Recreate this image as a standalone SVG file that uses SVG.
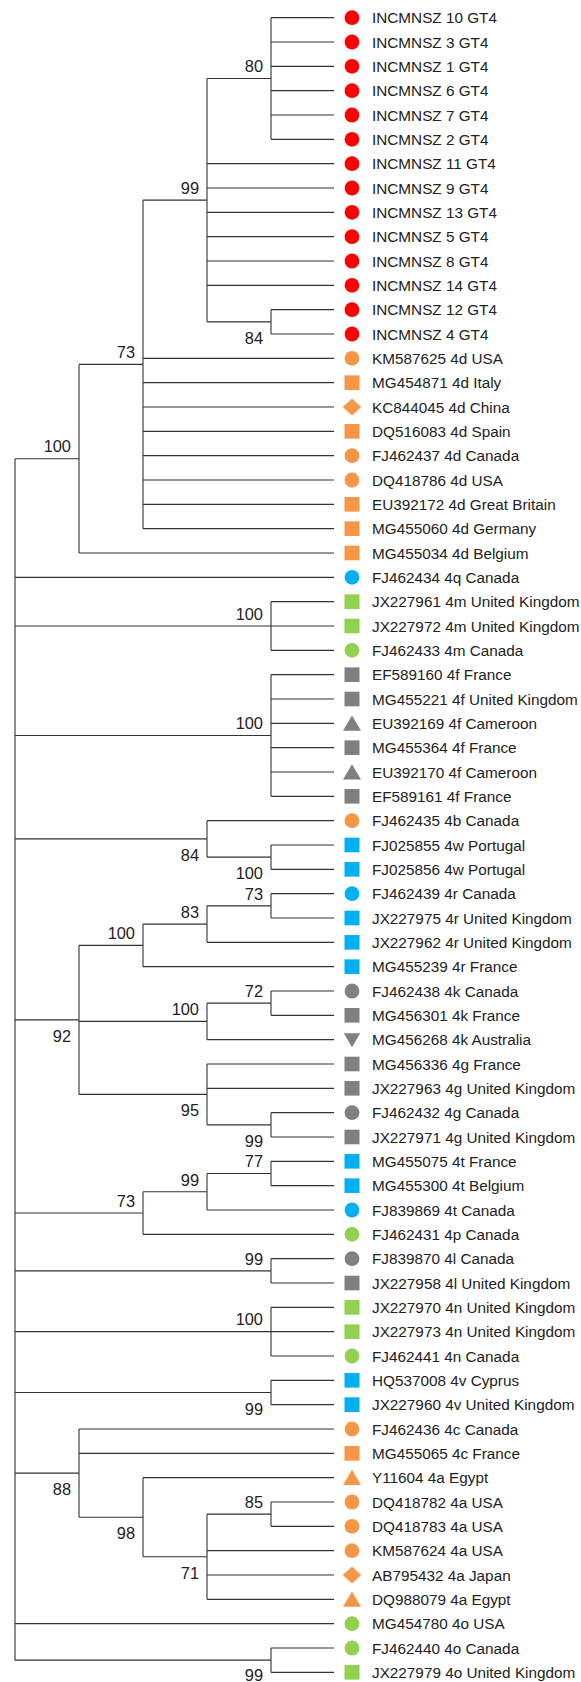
<svg xmlns="http://www.w3.org/2000/svg" xmlns:xlink="http://www.w3.org/1999/xlink" width="581" height="1682" viewBox="0 0 581 1682">
<style>
.br{fill:none;stroke:#333;stroke-width:1.1}
.lf{font-family:"Liberation Sans",Arial,sans-serif;font-size:15.3px;fill:#222}
.bs{font-family:"Liberation Sans",Arial,sans-serif;font-size:16.4px;fill:#222;text-anchor:end}
.red{fill:#FF0000}.org{fill:#F79646}.grn{fill:#92D050}.blu{fill:#00B0F0}.gry{fill:#808080}
</style>
<defs>
<circle id="ci" cx="0" cy="0" r="7.4"/>
<rect id="sq" x="-7.5" y="-7.3" width="15" height="14.6"/>
<polygon id="di" points="0,-8.6 9.2,0 0,8.6 -9.2,0"/>
<polygon id="tu" points="0,-7.8 9,7.4 -9,7.4"/>
<polygon id="td" points="-8.2,-6.4 8.2,-6.4 0,7.7"/>
</defs>
<rect width="581" height="1682" fill="#fff"/>
<g id="connectors" class="br">
<path d="M15 458.71V1660.17M15 458.71H79M79 364.42V553M79 364.42H143M79 553H334"/>
<path d="M143 200.17V528.67M143 200.17H207M143 358.33H334M143 382.67H334M143 407H334M143 431.33H334M143 455.67H334M143 480H334M143 504.33H334M143 528.67H334"/>
<path d="M207 78.5V321.83M207 78.5H271M207 163.67H334M207 188H334M207 212.33H334M207 236.67H334M207 261H334M207 285.33H334M207 321.83H271"/>
<path d="M271 17.67V139.33M271 17.67H334M271 42H334M271 66.33H334M271 90.67H334M271 115H334M271 139.33H334M271 309.67V334M271 309.67H334M271 334H334"/>
<path d="M15 577.33H334"/>
<path d="M15 626H271M271 601.67V650.33M271 601.67H334M271 626H334M271 650.33H334"/>
<path d="M15 735.5H271M271 674.67V796.33M271 674.67H334M271 699H334M271 723.33H334M271 747.67H334M271 772H334M271 796.33H334"/>
<path d="M15 838.92H207M207 820.67V857.17M207 820.67H334M207 857.17H271M271 845V869.33M271 845H334M271 869.33H334"/>
<path d="M15 1019.9H79M79 945.38V1094.42M79 945.38H143M143 924.08V966.67M143 924.08H207M143 966.67H334M207 905.83V942.33M207 905.83H271M207 942.33H334M271 893.67V918M271 893.67H334M271 918H334"/>
<path d="M79 1021.42H207M207 1003.17V1039.67M207 1003.17H271M207 1039.67H334M271 991V1015.33M271 991H334M271 1015.33H334"/>
<path d="M79 1094.42H207M207 1064V1124.83M207 1064H334M207 1088.33H334M207 1124.83H271M271 1112.67V1137M271 1112.67H334M271 1137H334"/>
<path d="M15 1213.04H143M143 1191.75V1234.33M143 1191.75H207M143 1234.33H334M207 1173.5V1210M207 1173.5H271M207 1210H334M271 1161.33V1185.67M271 1161.33H334M271 1185.67H334"/>
<path d="M15 1270.83H271M271 1258.67V1283M271 1258.67H334M271 1283H334"/>
<path d="M15 1331.67H271M271 1307.33V1356M271 1307.33H334M271 1331.67H334M271 1356H334"/>
<path d="M15 1392.5H271M271 1380.33V1404.67M271 1380.33H334M271 1404.67H334"/>
<path d="M15 1473.1H79M79 1429V1517.21M79 1429H334M79 1453.33H334M79 1517.21H143M143 1477.67V1556.75M143 1477.67H334M143 1556.75H207M207 1514.17V1599.33M207 1514.17H271M207 1550.67H334M207 1575H334M207 1599.33H334M271 1502V1526.33M271 1502H334M271 1526.33H334"/>
<path d="M15 1623.67H334M15 1660.17H271M271 1648V1672.33M271 1648H334M271 1672.33H334"/>
</g>
<g id="bootstrap">
<text class="bs" x="263" y="72.2">80</text>
<text class="bs" x="199" y="193.9">99</text>
<text class="bs" x="263" y="343.8">84</text>
<text class="bs" x="135" y="358.1">73</text>
<text class="bs" x="71" y="452.4">100</text>
<text class="bs" x="263" y="619.7">100</text>
<text class="bs" x="263" y="729.2">100</text>
<text class="bs" x="199" y="860.9">84</text>
<text class="bs" x="263" y="879.2">100</text>
<text class="bs" x="263" y="899.5">73</text>
<text class="bs" x="199" y="917.8">83</text>
<text class="bs" x="135" y="939.1">100</text>
<text class="bs" x="263" y="996.9">72</text>
<text class="bs" x="199" y="1015.1">100</text>
<text class="bs" x="71" y="1041.9">92</text>
<text class="bs" x="199" y="1116.4">95</text>
<text class="bs" x="263" y="1146.8">99</text>
<text class="bs" x="263" y="1167.2">77</text>
<text class="bs" x="199" y="1185.5">99</text>
<text class="bs" x="135" y="1206.7">73</text>
<text class="bs" x="263" y="1264.5">99</text>
<text class="bs" x="263" y="1325.4">100</text>
<text class="bs" x="263" y="1414.5">99</text>
<text class="bs" x="263" y="1507.9">85</text>
<text class="bs" x="71" y="1495.1">88</text>
<text class="bs" x="135" y="1539.2">98</text>
<text class="bs" x="199" y="1578.8">71</text>
<text class="bs" x="263" y="1681.3">99</text>
</g>
<g id="leaf01"><use href="#ci" class="red" x="352" y="17.67"/><text class="lf" x="372" y="23.2">INCMNSZ 10 GT4</text></g>
<g id="leaf02"><use href="#ci" class="red" x="352" y="42"/><text class="lf" x="372" y="47.5">INCMNSZ 3 GT4</text></g>
<g id="leaf03"><use href="#ci" class="red" x="352" y="66.33"/><text class="lf" x="372" y="71.9">INCMNSZ 1 GT4</text></g>
<g id="leaf04"><use href="#ci" class="red" x="352" y="90.67"/><text class="lf" x="372" y="96.2">INCMNSZ 6 GT4</text></g>
<g id="leaf05"><use href="#ci" class="red" x="352" y="115"/><text class="lf" x="372" y="120.5">INCMNSZ 7 GT4</text></g>
<g id="leaf06"><use href="#ci" class="red" x="352" y="139.33"/><text class="lf" x="372" y="144.9">INCMNSZ 2 GT4</text></g>
<g id="leaf07"><use href="#ci" class="red" x="352" y="163.67"/><text class="lf" x="372" y="169.2">INCMNSZ 11 GT4</text></g>
<g id="leaf08"><use href="#ci" class="red" x="352" y="188"/><text class="lf" x="372" y="193.5">INCMNSZ 9 GT4</text></g>
<g id="leaf09"><use href="#ci" class="red" x="352" y="212.33"/><text class="lf" x="372" y="217.9">INCMNSZ 13 GT4</text></g>
<g id="leaf10"><use href="#ci" class="red" x="352" y="236.67"/><text class="lf" x="372" y="242.2">INCMNSZ 5 GT4</text></g>
<g id="leaf11"><use href="#ci" class="red" x="352" y="261"/><text class="lf" x="372" y="266.5">INCMNSZ 8 GT4</text></g>
<g id="leaf12"><use href="#ci" class="red" x="352" y="285.33"/><text class="lf" x="372" y="290.9">INCMNSZ 14 GT4</text></g>
<g id="leaf13"><use href="#ci" class="red" x="352" y="309.67"/><text class="lf" x="372" y="315.2">INCMNSZ 12 GT4</text></g>
<g id="leaf14"><use href="#ci" class="red" x="352" y="334"/><text class="lf" x="372" y="339.5">INCMNSZ 4 GT4</text></g>
<g id="leaf15"><use href="#ci" class="org" x="352" y="358.33"/><text class="lf" x="372" y="363.9">KM587625 4d USA</text></g>
<g id="leaf16"><use href="#sq" class="org" x="352" y="382.67"/><text class="lf" x="372" y="388.2">MG454871 4d Italy</text></g>
<g id="leaf17"><use href="#di" class="org" x="352" y="407"/><text class="lf" x="372" y="412.5">KC844045 4d China</text></g>
<g id="leaf18"><use href="#sq" class="org" x="352" y="431.33"/><text class="lf" x="372" y="436.9">DQ516083 4d Spain</text></g>
<g id="leaf19"><use href="#ci" class="org" x="352" y="455.67"/><text class="lf" x="372" y="461.2">FJ462437 4d Canada</text></g>
<g id="leaf20"><use href="#ci" class="org" x="352" y="480"/><text class="lf" x="372" y="485.5">DQ418786 4d USA</text></g>
<g id="leaf21"><use href="#sq" class="org" x="352" y="504.33"/><text class="lf" x="372" y="509.9">EU392172 4d Great Britain</text></g>
<g id="leaf22"><use href="#sq" class="org" x="352" y="528.67"/><text class="lf" x="372" y="534.2">MG455060 4d Germany</text></g>
<g id="leaf23"><use href="#sq" class="org" x="352" y="553"/><text class="lf" x="372" y="558.5">MG455034 4d Belgium</text></g>
<g id="leaf24"><use href="#ci" class="blu" x="352" y="577.33"/><text class="lf" x="372" y="582.9">FJ462434 4q Canada</text></g>
<g id="leaf25"><use href="#sq" class="grn" x="352" y="601.67"/><text class="lf" x="372" y="607.2">JX227961 4m United Kingdom</text></g>
<g id="leaf26"><use href="#sq" class="grn" x="352" y="626"/><text class="lf" x="372" y="631.5">JX227972 4m United Kingdom</text></g>
<g id="leaf27"><use href="#ci" class="grn" x="352" y="650.33"/><text class="lf" x="372" y="655.9">FJ462433 4m Canada</text></g>
<g id="leaf28"><use href="#sq" class="gry" x="352" y="674.67"/><text class="lf" x="372" y="680.2">EF589160 4f France</text></g>
<g id="leaf29"><use href="#sq" class="gry" x="352" y="699"/><text class="lf" x="372" y="704.5">MG455221 4f United Kingdom</text></g>
<g id="leaf30"><use href="#tu" class="gry" x="352" y="723.33"/><text class="lf" x="372" y="728.9">EU392169 4f Cameroon</text></g>
<g id="leaf31"><use href="#sq" class="gry" x="352" y="747.67"/><text class="lf" x="372" y="753.2">MG455364 4f France</text></g>
<g id="leaf32"><use href="#tu" class="gry" x="352" y="772"/><text class="lf" x="372" y="777.5">EU392170 4f Cameroon</text></g>
<g id="leaf33"><use href="#sq" class="gry" x="352" y="796.33"/><text class="lf" x="372" y="801.9">EF589161 4f France</text></g>
<g id="leaf34"><use href="#ci" class="org" x="352" y="820.67"/><text class="lf" x="372" y="826.2">FJ462435 4b Canada</text></g>
<g id="leaf35"><use href="#sq" class="blu" x="352" y="845"/><text class="lf" x="372" y="850.5">FJ025855 4w Portugal</text></g>
<g id="leaf36"><use href="#sq" class="blu" x="352" y="869.33"/><text class="lf" x="372" y="874.9">FJ025856 4w Portugal</text></g>
<g id="leaf37"><use href="#ci" class="blu" x="352" y="893.67"/><text class="lf" x="372" y="899.2">FJ462439 4r Canada</text></g>
<g id="leaf38"><use href="#sq" class="blu" x="352" y="918"/><text class="lf" x="372" y="923.5">JX227975 4r United Kingdom</text></g>
<g id="leaf39"><use href="#sq" class="blu" x="352" y="942.33"/><text class="lf" x="372" y="947.9">JX227962 4r United Kingdom</text></g>
<g id="leaf40"><use href="#sq" class="blu" x="352" y="966.67"/><text class="lf" x="372" y="972.2">MG455239 4r France</text></g>
<g id="leaf41"><use href="#ci" class="gry" x="352" y="991"/><text class="lf" x="372" y="996.5">FJ462438 4k Canada</text></g>
<g id="leaf42"><use href="#sq" class="gry" x="352" y="1015.33"/><text class="lf" x="372" y="1020.9">MG456301 4k France</text></g>
<g id="leaf43"><use href="#td" class="gry" x="352" y="1039.67"/><text class="lf" x="372" y="1045.2">MG456268 4k Australia</text></g>
<g id="leaf44"><use href="#sq" class="gry" x="352" y="1064"/><text class="lf" x="372" y="1069.5">MG456336 4g France</text></g>
<g id="leaf45"><use href="#sq" class="gry" x="352" y="1088.33"/><text class="lf" x="372" y="1093.9">JX227963 4g United Kingdom</text></g>
<g id="leaf46"><use href="#ci" class="gry" x="352" y="1112.67"/><text class="lf" x="372" y="1118.2">FJ462432 4g Canada</text></g>
<g id="leaf47"><use href="#sq" class="gry" x="352" y="1137"/><text class="lf" x="372" y="1142.5">JX227971 4g United Kingdom</text></g>
<g id="leaf48"><use href="#sq" class="blu" x="352" y="1161.33"/><text class="lf" x="372" y="1166.9">MG455075 4t France</text></g>
<g id="leaf49"><use href="#sq" class="blu" x="352" y="1185.67"/><text class="lf" x="372" y="1191.2">MG455300 4t Belgium</text></g>
<g id="leaf50"><use href="#ci" class="blu" x="352" y="1210"/><text class="lf" x="372" y="1215.5">FJ839869 4t Canada</text></g>
<g id="leaf51"><use href="#ci" class="grn" x="352" y="1234.33"/><text class="lf" x="372" y="1239.9">FJ462431 4p Canada</text></g>
<g id="leaf52"><use href="#ci" class="gry" x="352" y="1258.67"/><text class="lf" x="372" y="1264.2">FJ839870 4l Canada</text></g>
<g id="leaf53"><use href="#sq" class="gry" x="352" y="1283"/><text class="lf" x="372" y="1288.5">JX227958 4l United Kingdom</text></g>
<g id="leaf54"><use href="#sq" class="grn" x="352" y="1307.33"/><text class="lf" x="372" y="1312.9">JX227970 4n United Kingdom</text></g>
<g id="leaf55"><use href="#sq" class="grn" x="352" y="1331.67"/><text class="lf" x="372" y="1337.2">JX227973 4n United Kingdom</text></g>
<g id="leaf56"><use href="#ci" class="grn" x="352" y="1356"/><text class="lf" x="372" y="1361.5">FJ462441 4n Canada</text></g>
<g id="leaf57"><use href="#sq" class="blu" x="352" y="1380.33"/><text class="lf" x="372" y="1385.9">HQ537008 4v Cyprus</text></g>
<g id="leaf58"><use href="#sq" class="blu" x="352" y="1404.67"/><text class="lf" x="372" y="1410.2">JX227960 4v United Kingdom</text></g>
<g id="leaf59"><use href="#ci" class="org" x="352" y="1429"/><text class="lf" x="372" y="1434.5">FJ462436 4c Canada</text></g>
<g id="leaf60"><use href="#sq" class="org" x="352" y="1453.33"/><text class="lf" x="372" y="1458.9">MG455065 4c France</text></g>
<g id="leaf61"><use href="#tu" class="org" x="352" y="1477.67"/><text class="lf" x="372" y="1483.2">Y11604 4a Egypt</text></g>
<g id="leaf62"><use href="#ci" class="org" x="352" y="1502"/><text class="lf" x="372" y="1507.5">DQ418782 4a USA</text></g>
<g id="leaf63"><use href="#ci" class="org" x="352" y="1526.33"/><text class="lf" x="372" y="1531.9">DQ418783 4a USA</text></g>
<g id="leaf64"><use href="#ci" class="org" x="352" y="1550.67"/><text class="lf" x="372" y="1556.2">KM587624 4a USA</text></g>
<g id="leaf65"><use href="#di" class="org" x="352" y="1575"/><text class="lf" x="372" y="1580.5">AB795432 4a Japan</text></g>
<g id="leaf66"><use href="#tu" class="org" x="352" y="1599.33"/><text class="lf" x="372" y="1604.9">DQ988079 4a Egypt</text></g>
<g id="leaf67"><use href="#ci" class="grn" x="352" y="1623.67"/><text class="lf" x="372" y="1629.2">MG454780 4o USA</text></g>
<g id="leaf68"><use href="#ci" class="grn" x="352" y="1648"/><text class="lf" x="372" y="1653.5">FJ462440 4o Canada</text></g>
<g id="leaf69"><use href="#sq" class="grn" x="352" y="1672.33"/><text class="lf" x="372" y="1677.9">JX227979 4o United Kingdom</text></g>
</svg>
